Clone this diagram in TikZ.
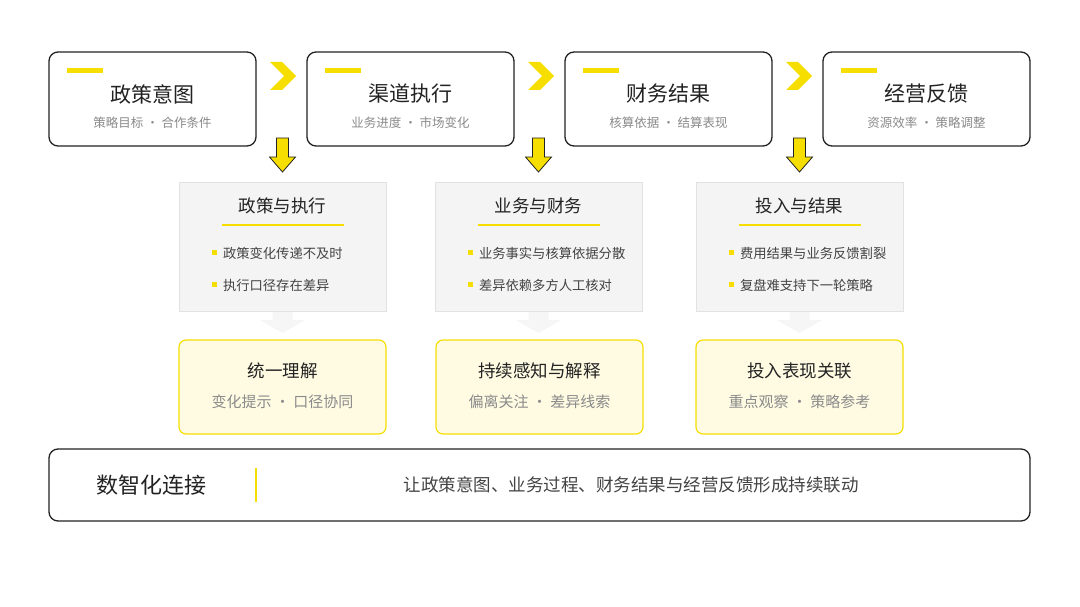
\documentclass[tikz,border=0pt]{standalone}
\usepackage{fontspec}
\setmainfont{Noto Sans CJK SC}
\usetikzlibrary{positioning}
\definecolor{accent}{HTML}{F5DE00}
\definecolor{panel}{HTML}{F4F4F4}
\definecolor{panelline}{HTML}{E2E2E2}
\definecolor{soft}{HTML}{FFFBE3}
\definecolor{ink}{HTML}{222222}
\definecolor{muted}{HTML}{8A8A8A}
\begin{document}
\begin{tikzpicture}[x=1pt,y=-1pt,
    stage/.style={rectangle, rounded corners=9pt, draw=ink, line width=1.3pt, fill=white, minimum width=207pt, minimum height=94pt},
    issue/.style={rectangle, draw=panelline, fill=panel, minimum width=207pt, minimum height=129pt},
    gain/.style={rectangle, rounded corners=7pt, draw=accent, line width=1.2pt, fill=soft, minimum width=207pt, minimum height=94pt},
    title/.style={font=\fontsize{21}{24}\selectfont, text=ink},
    sub/.style={font=\fontsize{12.5}{14}\selectfont, text=muted},
    head/.style={font=\fontsize{17.5}{20}\selectfont, text=ink},
    item/.style={font=\fontsize{13.3}{15}\selectfont, text=ink!85, anchor=west},
    down/.style={draw=ink, fill=accent, line width=0.8pt},
    fade/.style={fill=panel!80!white}
  ]
  \useasboundingbox (0,0) rectangle (1080,607);

  % top row
  \foreach \x/\name/\t/\s in {152.5/s1/政策意图/策略目标 · 合作条件, 410.5/s2/渠道执行/业务进度 · 市场变化, 668.5/s3/财务结果/核算依据 · 结算表现, 926.5/s4/经营反馈/资源效率 · 策略调整}{
    \node[stage] (\name) at (\x,99) {};
    \draw[accent, line width=4.5pt] ([xshift=19pt,yshift=-19pt]\name.north west) -- ++(36,0);
    \node[title] at ([yshift=5pt]\name.center) {\t};
    \node[sub] at ([yshift=-24pt]\name.center) {\s};
  }
  \foreach \x in {270,528,786}{
    \fill[accent] (\x,62) -- (\x+12,62) -- (\x+26,76) -- (\x+12,90) -- (\x,90) -- (\x+14,76) -- cycle;
  }

  % middle panels
  \foreach \x/\name/\h/\a/\b in {282.5/p1/政策与执行/政策变化传递不及时/执行口径存在差异, 538.5/p2/业务与财务/业务事实与核算依据分散/差异依赖多方人工核对, 799.5/p3/投入与结果/费用结果与业务反馈割裂/复盘难支持下一轮策略}{
    \draw[down] (\x-6,138) -- (\x+6,138) -- (\x+6,157) -- (\x+13,157) -- (\x,172) -- (\x-13,157) -- (\x-6,157) -- cycle;
    \node[issue] (\name) at (\x,246.5) {};
    \node[head] (h\name) at (\x,206) {\h};
    \draw[accent, line width=1.6pt] (\x-61,225) -- (\x+61,225);
    \fill[accent] (\x-71,250) rectangle ++(5,5);
    \node[item] at (\x-63,253) {\a};
    \fill[accent] (\x-71,282) rectangle ++(5,5);
    \node[item] at (\x-63,285) {\b};
    \fill[fade] (\x-10,312) -- (\x+10,312) -- (\x+10,320) -- (\x+23,320) -- (\x,333) -- (\x-23,320) -- (\x-10,320) -- cycle;
  }

  % result boxes
  \foreach \x/\name/\t/\s in {282.5/g1/统一理解/变化提示 · 口径协同, 539.5/g2/持续感知与解释/偏离关注 · 差异线索, 799.5/g3/投入表现关联/重点观察 · 策略参考}{
    \node[gain] (\name) at (\x,387) {};
    \node[head] at ([yshift=16pt]\name.center) {\t};
    \node[sub, font=\fontsize{15}{17}\selectfont] at ([yshift=-15pt]\name.center) {\s};
  }

  % bottom bar
  \node[stage, minimum width=981pt, minimum height=72pt] (base) at (539.5,485) {};
  \node[title, font=\fontsize{22}{26}\selectfont] (basetitle) at (151,485) {数智化连接};
  \draw[accent, line width=1.5pt] (256,468) -- (256,502);
  \node[font=\fontsize{17.5}{20}\selectfont, text=ink!85] (basetext) at (631,485) {让政策意图、业务过程、财务结果与经营反馈形成持续联动};
\end{tikzpicture}
\end{document}
